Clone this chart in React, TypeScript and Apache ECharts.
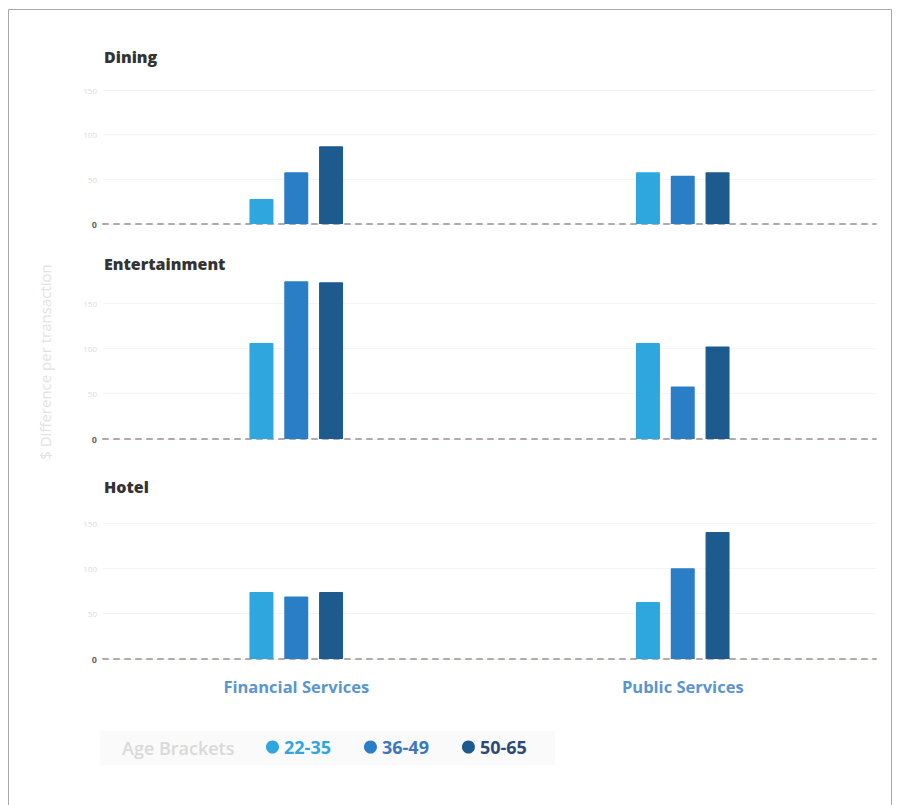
import React, { useEffect, useRef } from "react";
import * as echarts from "echarts";

// Categories, panels and age brackets
const categories = ["Financial Services", "Public Services"];
const panels = ["Dining", "Entertainment", "Hotel"];
const ageBrackets = ["22-35", "36-49", "50-65"];
const yTicks = [0, 50, 100, 150];

// $ difference per transaction, [Financial, Public]
const dining2235 = [28, 58];
const dining3649 = [58, 54];
const dining5065 = [87, 58];
const entertainment2235 = [106, 106];
const entertainment3649 = [174, 58];
const entertainment5065 = [173, 102];
const hotel2235 = [74, 63];
const hotel3649 = [69, 100];
const hotel5065 = [74, 140];

const panelValues = [
  [dining2235, dining3649, dining5065],
  [entertainment2235, entertainment3649, entertainment5065],
  [hotel2235, hotel3649, hotel5065],
];

const colors = ["#2ea6de", "#2a7ec6", "#1d5a8e"];
const legendTextColors = ["#2ea6de", "#3a78bd", "#2a4a78"];

// Plot rectangles (top / bottom offsets in px)
const gridBoxes = [
  { top: 90, bottom: 581 },
  { top: 303, bottom: 366 },
  { top: 523, bottom: 146 },
];
const titleY = [57, 264, 487];

const FONT = "'Open Sans', 'DejaVu Sans', sans-serif";

export default function App() {
  const ref = useRef<HTMLDivElement>(null);

  useEffect(() => {
    if (!ref.current) return;
    const chart = echarts.init(ref.current, null, { renderer: "svg" });

    const grids = gridBoxes.map((g) => ({
      left: 103,
      right: 26,
      top: g.top,
      bottom: g.bottom,
      containLabel: false,
    }));

    const xAxes = panels.map((_, i) => ({
      type: "category" as const,
      gridIndex: i,
      data: categories,
      boundaryGap: true,
      axisTick: { show: false },
      axisLine: {
        show: true,
        lineStyle: { color: "#b3a9a7", width: 2, type: [5, 6] as any },
      },
      axisLabel: {
        show: i === panels.length - 1,
        color: "#5b95cf",
        fontSize: 16.5,
        fontWeight: 700,
        fontFamily: FONT,
        margin: 19,
      },
      splitLine: { show: false },
    }));

    const yAxes = panels.map((_, i) => ({
      type: "value" as const,
      gridIndex: i,
      min: yTicks[0],
      max: yTicks[yTicks.length - 1],
      interval: yTicks[1] - yTicks[0],
      axisLine: { show: false },
      axisTick: { show: false },
      splitLine: { show: true, lineStyle: { color: "#f4f4f4", width: 1 } },
      axisLabel: {
        margin: 6,
        fontSize: 8,
        fontFamily: FONT,
        color: "#dcdcdc",
        formatter: (v: number) => (v === 0 ? "{z|0}" : String(v)),
        rich: { z: { color: "#666", fontWeight: 700, fontSize: 9, fontFamily: FONT } },
      },
    }));

    const series: any[] = [];
    panelValues.forEach((vals, p) => {
      vals.forEach((data, a) => {
        series.push({
          type: "bar",
          name: ageBrackets[a],
          xAxisIndex: p,
          yAxisIndex: p,
          data,
          barWidth: 24,
          barGap: "45%",
          clip: false,
          itemStyle: { color: colors[a], borderRadius: [1, 1, 0, 0] },
        });
      });
    });

    const graphics: any[] = [
      {
        type: "rect",
        silent: true,
        shape: { x: 8.5, y: 9.5, width: 883, height: 820 },
        style: { fill: "none", stroke: "#a8a8a8", lineWidth: 1 },
        z: -10,
      },
      {
        type: "rect",
        silent: true,
        shape: { x: 100, y: 731, width: 455, height: 34 },
        style: { fill: "#fafafa" },
        z: -10,
      },
      {
        type: "text",
        x: 122,
        y: 748,
        style: {
          text: "Age Brackets",
          fill: "#d9d9d9",
          font: `600 18px ${FONT}`,
          textVerticalAlign: "middle",
        },
      },
      {
        type: "text",
        x: 45,
        y: 362,
        rotation: Math.PI / 2,
        style: {
          text: "$ Difference per transaction",
          fill: "#e2e2e2",
          font: `15px ${FONT}`,
          textAlign: "center",
          textVerticalAlign: "middle",
        },
      },
      ...panels.map((name, i) => ({
        type: "text",
        x: 104,
        y: titleY[i],
        style: {
          text: name,
          fill: "#333",
          font: `800 16px ${FONT}`,
          textVerticalAlign: "middle",
        },
      })),
    ];

    chart.setOption({
      animation: false,
      backgroundColor: "#ffffff",
      grid: grids,
      xAxis: xAxes,
      yAxis: yAxes,
      series,
      legend: {
        data: ageBrackets.map((n, i) => ({
          name: n,
          textStyle: { color: legendTextColors[i] },
        })),
        left: 266,
        top: 738,
        padding: 0,
        icon: "circle",
        itemWidth: 13,
        itemHeight: 13,
        itemGap: 33,
        selectedMode: false,
        textStyle: {
          fontSize: 18,
          fontWeight: 700,
          fontFamily: FONT,
        },
      },
      graphic: graphics,
    });

    return () => chart.dispose();
  }, []);

  return (
    <div
      ref={ref}
      style={{ position: "absolute", left: 0, top: 0, width: 902, height: 805 }}
    />
  );
}
